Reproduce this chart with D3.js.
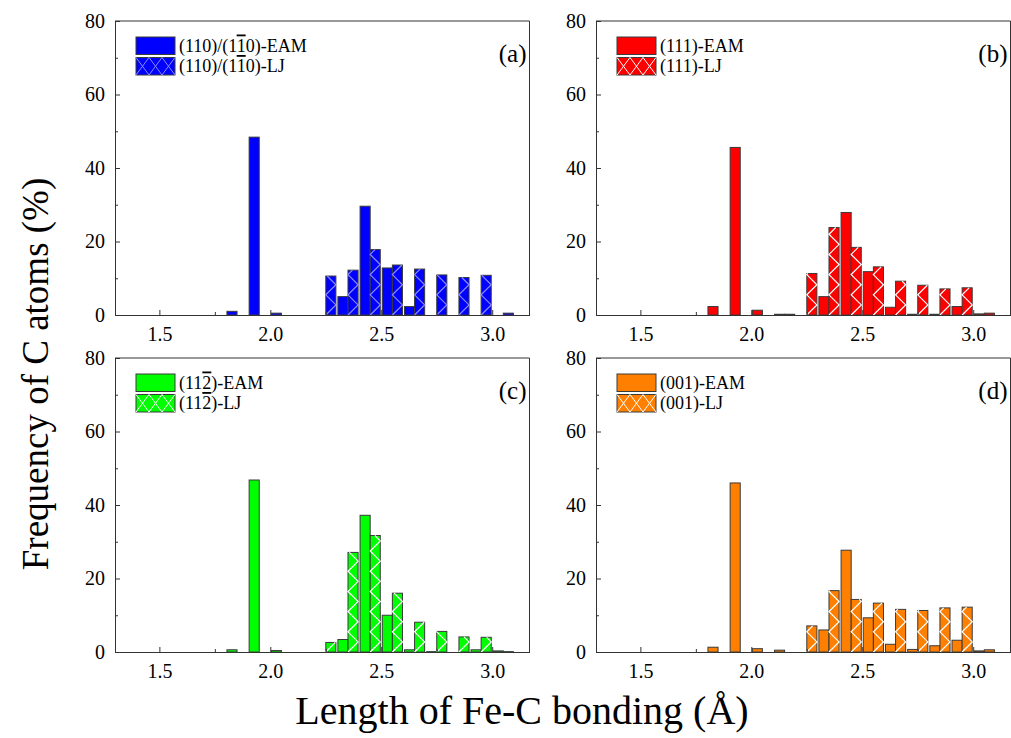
<!DOCTYPE html>
<html>
<head>
<meta charset="utf-8">
<script src="https://cdn.jsdelivr.net/npm/d3@7/dist/d3.min.js"></script>
<style>
  body { margin: 0; background: #fff; }
  svg text { font-family: "Liberation Serif", "Times New Roman", serif; fill: #000; }
</style>
</head>
<body>
<svg id="chart" width="1011" height="738" font-family="Liberation Serif, serif"></svg>
<script>
(function() {

// bin starts (Å); each bin holds an EAM bar and an LJ bar side by side
const bins = [1.8, 1.9, 2.0, 2.1, 2.2, 2.3, 2.4, 2.5, 2.6, 2.7, 2.8, 2.9, 3.0];

const eamA = [1.0, 48.4, 0.5, 0, 0, 5.0, 29.6, 12.8, 2.3, 0, 0, 0, 0];
const ljA  = [0, 0, 0, 0, 10.6, 12.2, 17.8, 13.6, 12.5, 10.9, 10.2, 10.8, 0.5];

const eamB = [2.3, 45.6, 1.3, 0.2, 0, 5.0, 27.9, 11.8, 2.1, 0.2, 0.2, 2.3, 0.3];
const ljB  = [0, 0, 0, 0.2, 11.3, 23.8, 18.4, 13.1, 9.2, 8.1, 7.1, 7.4, 0.5];

const eamC = [0.6, 46.8, 0.4, 0, 0, 3.4, 37.2, 10.0, 0.6, 0.1, 0, 0.6, 0.3];
const ljC  = [0, 0, 0, 0, 2.6, 27.1, 31.7, 16.0, 8.1, 5.6, 4.1, 4.0, 0.1];

const eamD = [1.3, 46.0, 0.9, 0.5, 0, 6.0, 27.7, 9.3, 2.1, 0.7, 1.7, 3.2, 0.3];
const ljD  = [0, 0, 0, 0, 7.1, 16.7, 14.3, 13.3, 11.6, 11.3, 12.0, 12.2, 0.6];

const xTicks = [1.5, 2.0, 2.5, 3.0];
const xMinor = [1.75, 2.25, 2.75];
const yTicks = [0, 20, 40, 60, 80];
const yMinor = [10, 30, 50, 70];

// "~" marks a digit drawn with an overbar
const panels = [
    { tag: "(a)", eam: eamA, lj: ljA, color: "#0000ff", hatch: "#8a8aff",
      names: ["(110)/(1~1~0)-EAM", "(110)/(1~1~0)-LJ"], left: 115, top: 21 },
    { tag: "(b)", eam: eamB, lj: ljB, color: "#ff0000", hatch: "#ffffff",
      names: ["(111)-EAM", "(111)-LJ"], left: 596, top: 21 },
    { tag: "(c)", eam: eamC, lj: ljC, color: "#00ff00", hatch: "#ffffff",
      names: ["(11~2~)-EAM", "(11~2~)-LJ"], left: 115, top: 358 },
    { tag: "(d)", eam: eamD, lj: ljD, color: "#ff8000", hatch: "#ffffff",
      names: ["(001)-EAM", "(001)-LJ"], left: 596, top: 358 }
];

const W = 414.5, H = 294, barW = 0.0455;
const serif = "'Liberation Serif', 'Times New Roman', serif";
const svg = d3.select("#chart");

const x = d3.scaleLinear().domain([1.3, 3.168]).range([0, W]);
const y = d3.scaleLinear().domain([0, 80]).range([H, 0]);

panels.forEach(drawPanel);

svg.append("text")
    .attr("transform", "translate(48,374) rotate(-90)")
    .attr("text-anchor", "middle")
    .attr("font-size", 37)
    .style("font-family", serif)
    .text("Frequency of C atoms (%)");

svg.append("text")
    .attr("x", 522).attr("y", 724)
    .attr("text-anchor", "middle")
    .attr("font-size", 40)
    .style("font-family", serif)
    .text("Length of Fe-C bonding (Å)");

/**
 * Draw one panel: bars, axes, frame and legend
 */

function drawPanel(p) {
    const g = svg.append("g").attr("transform", "translate(" + p.left + "," + p.top + ")");

    const eamBars = bins.map((b, i) => ({ x0: b + 0.05 - barW, v: p.eam[i] }));
    const ljBars = bins.map((b, i) => ({ x0: b + 0.05, v: p.lj[i] }));

    g.append("g").selectAll("rect")
        .data(eamBars.concat(ljBars).filter((d) => d.v > 0))
        .enter().append("rect")
        .attr("x", (d) => x(d.x0))
        .attr("y", (d) => y(d.v))
        .attr("width", x(barW) - x(0))
        .attr("height", (d) => H - y(d.v))
        .attr("fill", p.color)
        .attr("stroke", "#3a3a3a")
        .attr("stroke-width", 1);

    // zigzag hatch inside LJ bars
    g.append("g").selectAll("path")
        .data(ljBars.filter((d) => d.v > 1))
        .enter().append("path")
        .attr("d", (d) => zigzag(x(d.x0), x(d.x0 + barW), y(d.v), H))
        .attr("fill", "none")
        .attr("stroke", p.hatch)
        .attr("stroke-width", 1.2);

    // axes
    const xAxis = g.append("g").attr("transform", "translate(0," + H + ")")
        .call(d3.axisBottom(x).tickValues(xTicks).tickFormat(d3.format(".1f"))
            .tickSizeInner(-5).tickSizeOuter(0).tickPadding(12));
    g.append("g").attr("transform", "translate(0," + H + ")")
        .call(d3.axisBottom(x).tickValues(xMinor).tickFormat("").tickSizeInner(-3).tickSizeOuter(0))
        .select(".domain").remove();
    const yAxis = g.append("g")
        .call(d3.axisLeft(y).tickValues(yTicks).tickSizeInner(-5).tickSizeOuter(0).tickPadding(10));
    g.append("g")
        .call(d3.axisLeft(y).tickValues(yMinor).tickFormat("").tickSizeInner(-3).tickSizeOuter(0))
        .select(".domain").remove();

    g.selectAll("g").attr("font-family", null);
    g.selectAll(".tick text").attr("font-size", 20).attr("fill", "#000")
        .style("font-family", serif);
    g.selectAll(".tick line").attr("stroke", "#333");
    xAxis.select(".domain").attr("stroke", "#333");
    yAxis.select(".domain").attr("stroke", "#333");

    g.append("path")
        .attr("d", "M0,0H" + W + "V" + H)
        .attr("fill", "none")
        .attr("stroke", "#333");

    g.append("text")
        .attr("x", W - 3).attr("y", 41)
        .attr("text-anchor", "end")
        .attr("font-size", 25)
        .style("font-family", serif)
        .text(p.tag);

    // legend
    const lg = g.append("g").attr("transform", "translate(21,16)");
    p.names.forEach(function(name, i) {
        const row = lg.append("g").attr("transform", "translate(0," + (i * 20.5) + ")");
        row.append("rect")
            .attr("width", 39).attr("height", 17.5)
            .attr("fill", p.color)
            .attr("stroke", "#3a3a3a");
        if (i === 1) {
            let d = "";
            for (let k = 0; k < 3; k++) {
                const a = k * 13, b = a + 13;
                d += "M" + a + ",0L" + b + ",17.5M" + b + ",0L" + a + ",17.5";
            }
            row.append("path").attr("d", d).attr("fill", "none")
                .attr("stroke", p.hatch).attr("stroke-width", 1);
        }
        const t = row.append("text")
            .attr("x", 43).attr("y", 14.5)
            .attr("font-size", 18)
            .style("font-family", serif);
        name.split("~").forEach(function(part, j) {
            const ts = t.append("tspan").text(part);
            if (j % 2 === 1) ts.style("text-decoration", "overline");
        });
    });
}

/**
 * Zigzag hatch path from the bottom of a bar to its top
 */

function zigzag(x0, x1, top, bottom) {
    const step = x1 - x0;
    let yy = bottom, left = true, d = "M" + x0 + "," + bottom;
    while (yy - step > top) {
        yy -= step;
        left = !left;
        d += "L" + (left ? x0 : x1) + "," + yy;
    }
    const frac = (yy - top) / step;
    const nx = left ? x0 + frac * step : x1 - frac * step;
    d += "L" + nx + "," + top;
    return d;
}

})();
</script>
</body>
</html>
